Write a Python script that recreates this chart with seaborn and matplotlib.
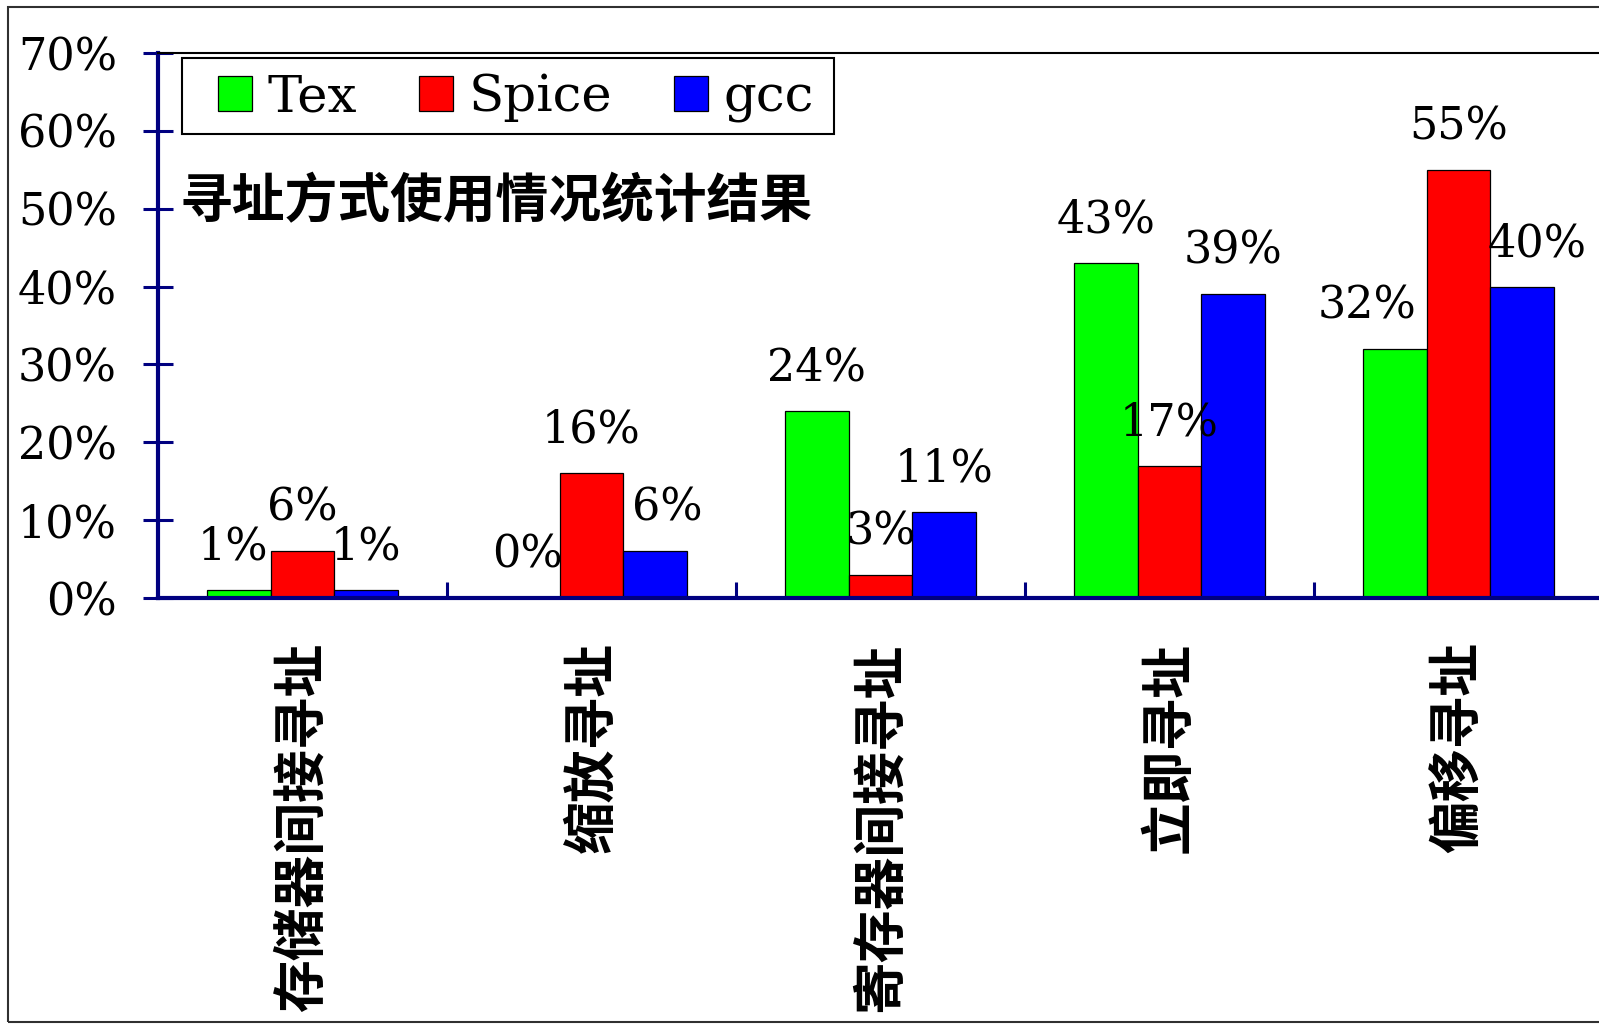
import matplotlib
matplotlib.use("Agg")
import matplotlib.pyplot as plt
from matplotlib.patches import Rectangle
from matplotlib.ticker import FixedLocator
import seaborn as sns
import pandas as pd

# Addressing modes on the x axis
categories = ["存储器间接寻址", "缩放寻址", "寄存器间接寻址", "立即寻址", "偏移寻址"]
# Usage share (%) per benchmark program
tex = [1, 0, 24, 43, 32]
spice = [6, 16, 3, 17, 55]
gcc = [1, 6, 11, 39, 40]
series_names = ["Tex", "Spice", "gcc"]
series_colors = ["#00FF00", "#FF0000", "#0000FF"]
y_ticks = [0, 10, 20, 30, 40, 50, 60, 70]
y_tick_labels = [f"{t}%" for t in y_ticks]
title_text = "寻址方式使用情况统计结果"

rows = []
for name, values in zip(series_names, [tex, spice, gcc]):
    for cat, v in zip(categories, values):
        rows.append({"mode": cat, "pct": v, "prog": name})
df = pd.DataFrame(rows)

sns.set_theme(style="white")
plt.rcParams["font.family"] = ["DejaVu Serif", "Noto Sans CJK SC"]
plt.rcParams["text.color"] = "black"
plt.rcParams["xtick.color"] = "black"
plt.rcParams["ytick.color"] = "black"
plt.rcParams["xtick.labelcolor"] = "black"
plt.rcParams["ytick.labelcolor"] = "black"

W, H = 1599, 1024
fig = plt.figure(figsize=(W / 100, H / 100), dpi=100)
fig.patch.set_facecolor("white")

# plot area: y axis at x=158px, x axis at y=598px, top at y=53px
left_px, right_px, top_px, bottom_px = 158, 1603, 53, 598
ax = fig.add_axes([left_px / W, 1 - bottom_px / H,
                   (right_px - left_px) / W, (bottom_px - top_px) / H])

sns.barplot(data=df, x="mode", y="pct", hue="prog", order=categories,
            hue_order=series_names, palette=series_colors, saturation=1,
            width=0.66, edgecolor="black", linewidth=0.9, ax=ax)

ax.set_xlim(-0.5, len(categories) - 0.5)
ax.set_ylim(0, 70)
ax.set_xlabel("")
ax.set_ylabel("")

navy = "#000080"
for side in ["left", "bottom"]:
    ax.spines[side].set_color(navy)
    ax.spines[side].set_linewidth(3.0)
ax.spines["top"].set_color("black")
ax.spines["top"].set_linewidth(1.5)
ax.spines["right"].set_visible(False)

ax.set_yticks(y_ticks)
ax.set_yticklabels(y_tick_labels, fontsize=32, family="DejaVu Serif",
                   color="black")
ax.tick_params(axis="y", which="major", left=True, direction="inout",
               length=21.6, width=2.2, color=navy, pad=18.7)

ax.set_xticks(range(len(categories)))
ax.set_xticklabels(categories, rotation=90, fontsize=38, fontweight="bold",
                   family="Noto Sans CJK SC", va="top", ha="center",
                   color="black")
ax.tick_params(axis="x", which="major", bottom=True, direction="in",
               length=0, pad=32)
ax.xaxis.set_minor_locator(FixedLocator([i + 0.5 for i in range(len(categories))]))
ax.tick_params(axis="x", which="minor", bottom=True, direction="in",
               length=11.5, width=2.2, color=navy)

# value labels above each bar; a few are nudged sideways to avoid crowding
nudge = {("Tex", 4): -20, ("gcc", 4): 11, ("gcc", 1): 9, ("Tex", 0): -4}
for name, container, values in zip(series_names, ax.containers, [tex, spice, gcc]):
    for i, (bar, v) in enumerate(zip(container.patches, values)):
        ax.annotate(f"{v}%", (bar.get_x() + bar.get_width() / 2, v),
                    xytext=(nudge.get((name, i), 0), 31),
                    textcoords="offset points",
                    ha="center", va="center", fontsize=32,
                    family="DejaVu Serif", color="black")

# legend
handles, labels = ax.get_legend_handles_labels()
if ax.get_legend() is not None:
    ax.get_legend().remove()
leg = fig.legend(handles, labels, loc="center left",
                 bbox_to_anchor=(218 / W, 1 - 98 / H),
                 bbox_transform=fig.transFigure,
                 ncol=3, frameon=False, borderpad=0, borderaxespad=0,
                 handlelength=0.667, handleheight=0.667, handletextpad=0.3,
                 columnspacing=1.2, prop={"family": "DejaVu Serif", "size": 37})
for t in leg.get_texts():
    t.set_color("black")
fig.add_artist(Rectangle((182 / W, 1 - 134 / H), (834 - 182) / W, 76 / H,
                         transform=fig.transFigure, fill=False,
                         edgecolor="black", linewidth=1.5))

fig.text(180 / W, 1 - 202 / H, title_text, ha="left", va="center",
         fontsize=38, fontweight="bold", family="Noto Sans CJK SC",
         color="black")

# outer chart border
fig.add_artist(Rectangle((8 / W, 2 / H), 1.2, 1015 / H,
                         transform=fig.transFigure, fill=False,
                         edgecolor="#303030", linewidth=1.5))

fig.savefig("out.png", dpi=100)
